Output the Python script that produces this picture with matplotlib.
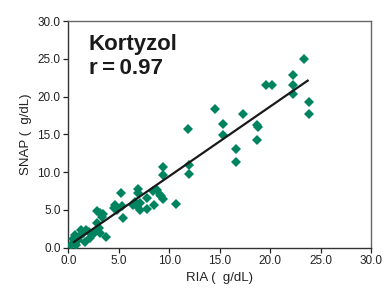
import matplotlib
matplotlib.use("Agg")
import matplotlib.pyplot as plt

plt.rcParams['font.family'] = ['Liberation Sans', 'DejaVu Sans']

# Data (RIA x, SNAP y)
ria = [23.3, 22.2, 22.2, 22.2, 19.6, 20.2, 23.8, 23.8, 14.5, 17.3,
       15.3, 15.3, 18.7, 18.8, 18.7, 11.9, 16.6, 16.6, 12.0, 12.0,
       9.4, 9.35, 10.7, 8.75, 9.2, 9.4, 5.2, 6.9, 6.9, 7.8,
       8.4, 9.1, 8.5, 7.8, 7.1, 6.4, 6.6, 6.8, 7.1, 4.6,
       4.5, 4.8, 5.3, 5.45, 2.8, 3.1, 3.3, 3.4, 2.8, 3.0,
       2.6, 3.1, 3.7, 2.0, 1.8, 1.5, 1.3, 1.2, 1.0, 0.7,
       0.5, 0.7, 0.3, 0.8, 1.65, 2.1, 2.4]
snap = [25.0, 22.8, 21.6, 20.4, 21.5, 21.5, 19.3, 17.7, 18.3, 17.7,
        16.4, 14.9, 16.3, 16.0, 14.3, 15.7, 13.1, 11.3, 10.9, 9.8,
        10.7, 9.6, 5.8, 7.7, 6.8, 6.5, 7.3, 7.8, 7.2, 6.6,
        7.5, 7.0, 5.7, 5.1, 5.9, 5.7, 6.1, 5.5, 5.0, 5.7,
        5.3, 5.0, 5.5, 3.9, 4.8, 4.6, 4.1, 4.4, 3.3, 2.6,
        2.1, 1.9, 1.4, 2.1, 2.4, 1.9, 2.4, 1.5, 1.0, 1.7,
        1.2, 0.6, 0.35, 0.35, 0.8, 1.25, 1.8]

fit_slope = 0.923
fit_intercept = 0.24
fit_range = [0.55, 23.7]

ticks = [0, 5, 10, 15, 20, 25, 30]
tick_labels = ["0.0", "5.0", "10.0", "15.0", "20.0", "25.0", "30.0"]

fig = plt.figure(figsize=(3.87, 2.97), dpi=100)
ax = fig.add_axes([0.1765, 0.166, 0.7829, 0.763])

ax.plot(ria, snap, linestyle='none', marker='D', ms=5.2, color='#00845f',
        markeredgewidth=0, zorder=3)
fx = fit_range
fy = [fit_slope * v + fit_intercept for v in fx]
ax.plot(fx, fy, color='#1a1a1a', lw=1.6, zorder=4)

ax.set_xlim(0, 30)
ax.set_ylim(0, 30)
ax.set_xticks(ticks)
ax.set_xticklabels(tick_labels)
ax.set_yticks(ticks)
ax.set_yticklabels(tick_labels)
ax.tick_params(direction='out', length=3.5, width=0.9, labelsize=8.5,
               colors='#222222', pad=2)

for s in ['left', 'bottom']:
    ax.spines[s].set_color('#333333')
    ax.spines[s].set_linewidth(1.0)
for s in ['top', 'right']:
    ax.spines[s].set_color('#666666')
    ax.spines[s].set_linewidth(1.0)

ax.set_xlabel("RIA (  g/dL)", fontsize=9.5, color='#222222', labelpad=3)
ax.set_ylabel("SNAP (  g/dL)", fontsize=9.5, color='#222222', labelpad=4)

ax.text(0.068, 0.945, "Kortyzol\nr\u2009=\u20090.97", transform=ax.transAxes,
        fontsize=16, fontweight='bold', color='#1a1a1a', va='top',
        linespacing=1.2)

fig.savefig("out.png", dpi=100)
